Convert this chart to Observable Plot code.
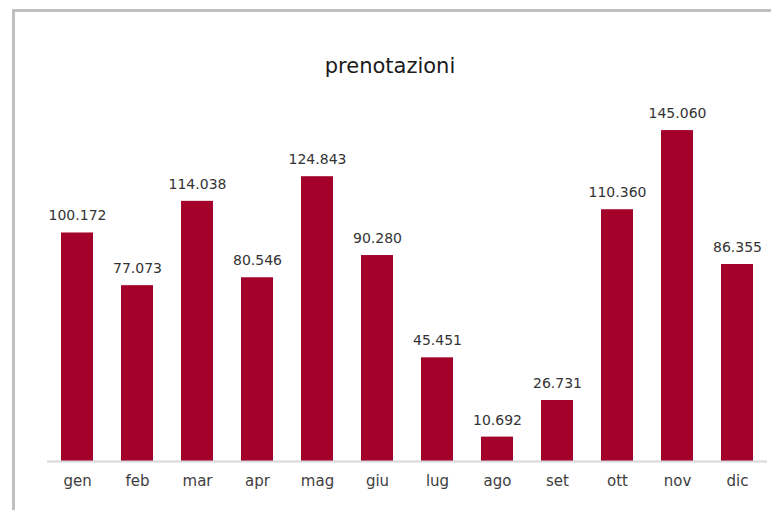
<!DOCTYPE html>
<html>
<head>
<meta charset="utf-8">
<script src="https://cdn.jsdelivr.net/npm/d3@7"></script>
<script src="https://cdn.jsdelivr.net/npm/@observablehq/plot@0.6"></script>
<style>
  html, body { margin: 0; padding: 0; background: #fff; }
  #wrap { position: relative; width: 771px; height: 510px; overflow: hidden; }
  #frame { position: absolute; left: 12px; top: 9px; width: 780px; height: 520px;
           border-left: 3px solid #bfbfbf; border-top: 3px solid #bfbfbf; box-sizing: border-box; }
  #title { position: absolute; left: 0; width: 780px; top: 54px; text-align: center;
           font-family: "DejaVu Sans", sans-serif; font-size: 21px; color: #1a1a1a; }
  #chart { position: absolute; left: 0; top: 0; }
</style>
</head>
<body>
<div id="wrap">
  <div id="frame"></div>
  <div id="chart"></div>
  <div id="title">prenotazioni</div>
</div>
<script>
const months = ["gen","feb","mar","apr","mag","giu","lug","ago","set","ott","nov","dic"];
const bookings = [100172, 77073, 114038, 80546, 124843, 90280, 45451, 10692, 26731, 110360, 145060, 86355];

const data = months.map((m, i) => ({month: m, value: bookings[i]}));
const fmt = d3.formatLocale({decimal: ",", thousands: ".", grouping: [3], currency: ["", ""]}).format(",d");

const chart = Plot.plot({
  width: 771,
  height: 510,
  marginLeft: 47,
  marginRight: 4,
  marginTop: 96,
  marginBottom: 49,
  style: {fontFamily: "DejaVu Sans, sans-serif", background: "transparent"},
  x: {domain: months, paddingInner: 0.467, paddingOuter: 0.2335, round: false, label: null},
  y: {domain: [0, 160000], axis: null},
  marks: [
    Plot.barY(data, {x: "month", y: "value", fill: "#a3002a"}),
    Plot.ruleY([0], {stroke: "#d9d9d9", strokeWidth: 2}),
    Plot.text(data, {x: "month", y: "value", text: d => fmt(d.value), dy: -17,
      fontSize: 14, fill: "#333"}),
    Plot.axisX({tickSize: 0, tickPadding: 14, fontSize: 15, color: "#404040", label: null})
  ]
});
document.getElementById("chart").appendChild(chart);
</script>
</body>
</html>
